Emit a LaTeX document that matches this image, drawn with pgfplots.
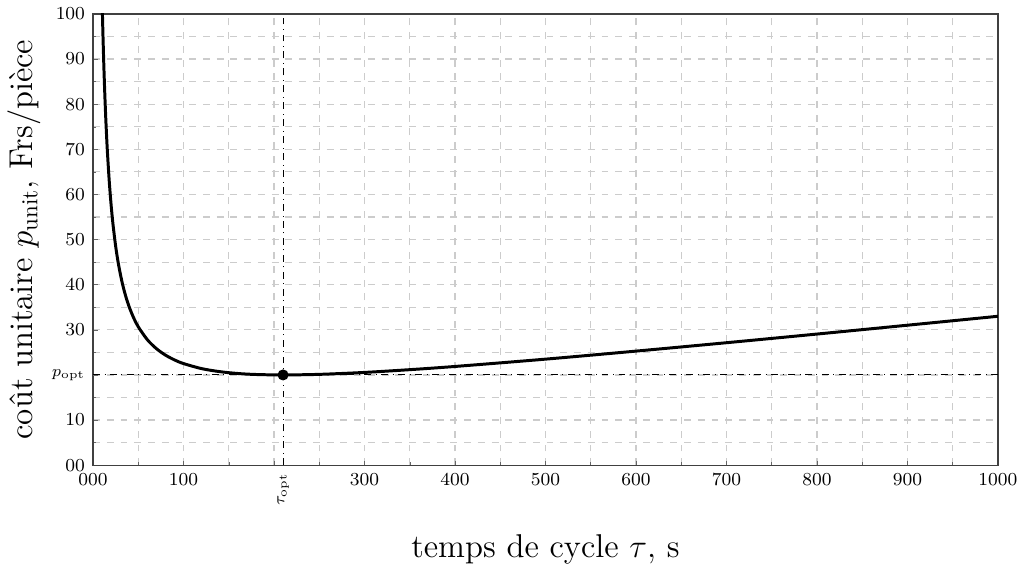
\documentclass[border=0pt]{standalone}
\usepackage{pgfplots}
\pgfplotsset{compat=1.18}
\usepackage{amsmath}
\begin{document}
\begin{tikzpicture}
\begin{axis}[
  scale only axis,
  width=395pt, height=197pt,
  xmin=0, xmax=1000, ymin=0, ymax=100,
  xtick={0,100,...,1000},
  xticklabels={000,100,,300,400,500,600,700,800,900,1000},
  ytick={0,10,...,100},
  yticklabels={00,10,,30,40,50,60,70,80,90,100},
  minor x tick num=1, minor y tick num=1,
  grid=both,
  major grid style={dashed, gray!40, line width=0.5pt},
  minor grid style={dashed, gray!40, line width=0.5pt},
  tick pos=left,
  major tick length=2pt, minor tick length=1.5pt,
  tick style={black!60},
  axis line style={black!75, line width=0.6pt},
  tick label style={font=\footnotesize},
  extra x ticks={210},
  extra x tick labels={$\tau_{\text{opt}}$},
  extra x tick style={grid=none, tick label style={rotate=90, anchor=east, font=\scriptsize}},
  extra y ticks={20},
  extra y tick labels={$p_{\text{opt}}$},
  extra y tick style={grid=none, tick label style={font=\scriptsize}},
  xlabel={temps de cycle $\tau$, s},
  ylabel={co\^ut unitaire $p_{\text{unit}}$, Frs/pi\`ece},
  label style={font=\Large},
  xlabel style={yshift=-6pt},
  ylabel style={yshift=-2pt},
  clip=true,
]
\addplot[black, dash dot, line width=0.4pt] coordinates {(0,20) (1000,20)};
\addplot[black, dash dot, line width=0.4pt] coordinates {(210,0) (210,100)};
\addplot[black, line width=1.3pt, smooth] coordinates {
(10.3,100.65) (11,94.99) (12,88.05) (13,82.18) (14,77.15) (15,72.80) (16,68.99)
(18,62.66) (20,57.60) (22,53.46) (25,48.51) (28,44.64) (32,40.63) (36,37.52)
(40,35.05) (45,32.60) (50,30.66) (60,27.81) (70,25.83) (80,24.40) (90,23.33)
(100,22.52) (120,21.40) (140,20.73) (160,20.32) (180,20.10) (210,20.00)
(250,20.13) (300,20.56) (350,21.17) (400,21.88) (500,23.50) (600,25.28)
(700,27.14) (800,29.06) (900,31.02) (1000,33.00)
};
\addplot[black, only marks, mark=*, mark size=2.2pt] coordinates {(210,20)};
\end{axis}
\end{tikzpicture}
\end{document}
